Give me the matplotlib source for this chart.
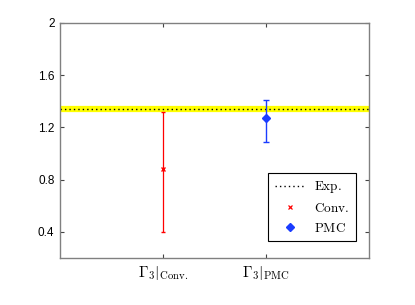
import matplotlib.pyplot as plt
from matplotlib.lines import Line2D

plt.rcParams['mathtext.fontset'] = 'cm'

# values
exp_value = 1.34
x_pos = [1, 2]
x_labels = [r'$\Gamma_3|_{\rm Conv.}$', r'$\Gamma_3|_{\rm PMC}$']
legend_labels = [r'$\mathrm{Exp.}$', r'$\mathrm{Conv.}$', r'$\mathrm{PMC}$']
conv_val = 0.88
conv_lo = 0.40
conv_hi = 1.32
pmc_val = 1.27
pmc_lo = 1.09
pmc_hi = 1.41
y_ticks = [0.4, 0.8, 1.2, 1.6, 2]
y_tick_labels = ['0.4', '0.8', '1.2', '1.6', '2']

fig = plt.figure(figsize=(4.15, 3.05), dpi=100)
ax = fig.add_axes([0.1446, 0.154, 0.7446, 0.7706])

# yellow band behind the experimental line
ax.axhline(exp_value, color='#ffff00', lw=4.5, zorder=1)
ax.axhline(exp_value, color='k', lw=1.0, ls=(0, (1, 2.2)), zorder=2)

ax.errorbar([x_pos[0]], [conv_val],
            yerr=[[conv_val - conv_lo], [conv_hi - conv_val]],
            fmt='x', color='#ff0000', ms=3.5, mew=1.0, elinewidth=0.9,
            capsize=1.5, zorder=3)
ax.errorbar([x_pos[1]], [pmc_val],
            yerr=[[pmc_val - pmc_lo], [pmc_hi - pmc_val]],
            fmt='D', color='#1a3cff', ms=4, elinewidth=1.0,
            capsize=2.5, zorder=3)

ax.set_xlim(0, 3)
ax.set_ylim(0.2, 2)
ax.set_xticks(x_pos)
ax.set_xticklabels(x_labels, fontsize=11)
ax.set_yticks(y_ticks)
ax.set_yticklabels(y_tick_labels, fontsize=8.5, family='Liberation Sans')
ax.tick_params(direction='in', length=3, top=True, right=True, color='#444444', pad=4)
for s in ax.spines.values():
    s.set_color('#808080')
    s.set_linewidth(1.0)

# legend handles without error bars
h = [Line2D([], [], color='k', lw=1.0, ls=(0, (1, 2.2))),
     Line2D([], [], color='#ff0000', marker='x', ls='none', ms=3.0, mew=0.9),
     Line2D([], [], color='#1a3cff', marker='D', ls='none', ms=4)]
leg = ax.legend(h, legend_labels, loc='lower right',
                bbox_to_anchor=(0.958, 0.072), borderaxespad=0,
                fancybox=False, framealpha=1, edgecolor='k',
                prop={'size': 9.5}, handlelength=2.3, borderpad=0.5,
                labelspacing=0.5, handletextpad=0.7)
leg.get_frame().set_linewidth(0.8)

fig.savefig('out.png', dpi=100)
